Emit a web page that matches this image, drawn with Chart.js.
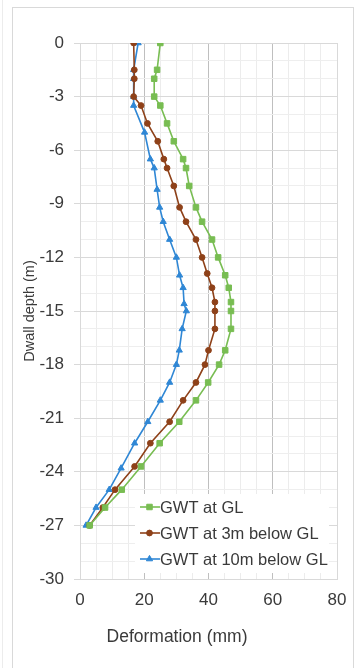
<!DOCTYPE html>
<html lang="en">
<head>
  <meta charset="UTF-8" />
  <title>Dwall deformation</title>
  <script src="https://cdn.jsdelivr.net/npm/chart.js"></script>
  <style>
    html, body { margin: 0; padding: 0; background: #fff; }
    .pagina { position: relative; width: 359px; height: 668px; overflow: hidden; }
    .moldura { position: absolute; left: 12px; top: 7px; width: 340px; height: 700px; border: 1px solid #d9d9d9; border-bottom: none; }
    .risco { position: absolute; left: 2px; top: 0; width: 1px; height: 668px; background: #ececec; }
    canvas { position: absolute; left: 0; top: 0; }
  </style>
</head>
<body>
  <div class="pagina">
    <div class="risco"></div>
    <div class="moldura"></div>
    <canvas id="grafico" width="359" height="668"></canvas>
  </div>

  <script>
    // valores: profundidade (m) e deformacao (mm)
    const nomes = ['GWT at GL', 'GWT at 3m below GL', 'GWT at 10m below GL'];
    const tituloX = 'Deformation (mm)';
    const tituloY = 'Dwall depth (m)';

    const profGL = [0, -1.5, -2, -3, -3.5, -4.5, -5.5, -6.5, -7, -8, -9.2, -10, -11, -12, -13, -13.7, -14.5, -15, -16, -17.2, -18, -19, -20, -21.2, -22.4, -23.7, -25, -26, -27];
    const defGL = [25.0, 24.0, 23.1, 23.1, 25.0, 27.1, 29.2, 32.1, 33.0, 34.0, 36.1, 38.0, 41.1, 43.0, 45.2, 46.3, 47.0, 47.0, 47.0, 45.2, 43.3, 39.9, 36.1, 30.9, 24.8, 19.0, 13.0, 7.8, 3.0];

    const prof3m = [0, -1.5, -2, -3, -3.5, -4.5, -5.5, -6.5, -7, -8, -9.2, -10, -11, -12, -12.9, -13.7, -14.5, -15, -16, -17.2, -18, -19, -20, -21.2, -22.4, -23.7, -25, -26, -27];
    const def3m = [16.7, 16.9, 16.9, 16.7, 19.0, 21.0, 24.2, 26.1, 27.1, 29.2, 31.0, 33.0, 36.1, 38.0, 39.6, 41.1, 42.0, 42.0, 42.0, 40.0, 38.9, 36.1, 32.1, 27.9, 21.9, 17.0, 10.9, 7.1, 3.0];

    const prof10m = [0, -1.5, -2, -3, -3.5, -5, -6.5, -7, -8.2, -9.2, -10, -11, -12, -13, -13.7, -14.6, -15, -16, -17.2, -18, -19, -20, -21.2, -22.4, -23.8, -25, -26, -27];
    const def10m = [18.1, 16.7, 16.7, 16.7, 16.7, 20.1, 21.9, 23.1, 24.0, 24.8, 25.9, 27.9, 30.0, 31.0, 32.1, 32.4, 33.1, 31.8, 30.9, 30.0, 27.9, 25.0, 21.1, 17.0, 12.8, 9.1, 5.0, 1.9];

    const ticksX = [0, 20, 40, 60, 80];
    const ticksY = [0, -3, -6, -9, -12, -15, -18, -21, -24, -27, -30];

    const cores = ['#78BD52', '#8E4119', '#2F87D5'];
    const marcadores = ['rect', 'circle', 'triangle'];
    const raios = [3.9, 2.9, 3.6];

    function pontos(def, prof) {
      return def.map((v, i) => ({ x: v, y: prof[i] }));
    }

    const series = [pontos(defGL, profGL), pontos(def3m, prof3m), pontos(def10m, prof10m)];

    const fonte = '"Liberation Sans", Arial, sans-serif';
    const corTexto = '#3a3a3a';

    // legenda por cima da grade (fundo branco) e titulo do eixo x um pouco deslocado
    const legendaInterna = {
      id: 'legendaInterna',
      afterDatasetsDraw(chart) {
        const ctx = chart.ctx;
        const area = chart.chartArea;
        const x0 = area.left + 55;
        const y0 = area.bottom - 85;
        ctx.save();
        ctx.fillStyle = '#ffffff';
        ctx.fillRect(x0, y0, 194, 79);
        chart.data.datasets.forEach((ds, i) => {
          const y = y0 + 13 + i * 26;
          ctx.strokeStyle = ds.borderColor;
          ctx.lineWidth = ds.borderWidth;
          ctx.beginPath();
          ctx.moveTo(x0 + 5, y);
          ctx.lineTo(x0 + 25, y);
          ctx.stroke();
          ctx.fillStyle = ds.pointBackgroundColor;
          ctx.lineWidth = 1;
          Chart.helpers.drawPoint(ctx, { pointStyle: ds.pointStyle, radius: ds.pointRadius, borderWidth: 1, rotation: 0 }, x0 + 14.5, y);
          ctx.fillStyle = corTexto;
          ctx.font = '16.5px ' + fonte;
          ctx.textBaseline = 'middle';
          ctx.textAlign = 'left';
          ctx.fillText(ds.label, x0 + 25, y + 1);
        });
        ctx.restore();
      },
      afterDraw(chart) {
        const ctx = chart.ctx;
        ctx.save();
        ctx.fillStyle = corTexto;
        ctx.font = '17.5px ' + fonte;
        ctx.textBaseline = 'middle';
        ctx.textAlign = 'center';
        ctx.fillText(tituloX, chart.chartArea.left + 97, 637);
        ctx.restore();
      }
    };

    const ctx = document.getElementById('grafico').getContext('2d');
    new Chart(ctx, {
      type: 'scatter',
      data: {
        datasets: series.map((dados, i) => ({
          label: nomes[i],
          data: dados,
          showLine: true,
          borderColor: cores[i],
          backgroundColor: cores[i],
          pointBackgroundColor: cores[i],
          pointBorderColor: cores[i],
          pointStyle: marcadores[i],
          pointRadius: raios[i],
          pointBorderWidth: 1,
          borderWidth: 1.6,
          tension: 0
        }))
      },
      options: {
        responsive: false,
        animation: false,
        devicePixelRatio: 1,
        layout: { padding: { top: 43, right: 22, left: 0, bottom: 0 } },
        plugins: {
          legend: { display: false },
          tooltip: { enabled: false }
        },
        scales: {
          x: {
            type: 'linear',
            min: 0,
            max: 80,
            afterFit: (s) => { s.height = 89; },
            ticks: {
              stepSize: 5,
              autoSkip: false,
              maxRotation: 0,
              padding: 11,
              color: corTexto,
              font: { family: fonte, size: 17 },
              callback: (v) => ticksX.includes(v) ? String(v) : ''
            },
            grid: {
              drawTicks: false,
              lineWidth: 1,
              color: (c) => {
                const v = c.tick ? c.tick.value : null;
                if (v === 0 || v === 80) return '#d9d9d9';
                return ticksX.includes(v) ? '#bfbfbf' : '#ececec';
              }
            },
            border: { display: true, color: '#d9d9d9' },
            title: { display: false }
          },
          y: {
            type: 'linear',
            min: -30,
            max: 0,
            afterFit: (s) => { s.width = 80; },
            ticks: {
              stepSize: 1,
              autoSkip: false,
              padding: 10,
              color: corTexto,
              font: { family: fonte, size: 17 },
              callback: (v) => ticksY.includes(v) ? String(v) : ''
            },
            grid: {
              drawTicks: true,
              tickLength: 6,
              lineWidth: 1,
              color: (c) => {
                const v = c.tick ? c.tick.value : null;
                return ticksY.includes(v) ? '#d9d9d9' : '#eeeeee';
              },
              tickColor: (c) => {
                const v = c.tick ? c.tick.value : null;
                return ticksY.includes(v) ? '#d9d9d9' : 'rgba(0,0,0,0)';
              }
            },
            border: { display: true, color: '#d9d9d9' },
            title: {
              display: true,
              text: tituloY,
              color: corTexto,
              font: { family: fonte, size: 14.5 },
              padding: { top: 21, bottom: 0 }
            }
          }
        }
      },
      plugins: [legendaInterna]
    });
  </script>
</body>
</html>
